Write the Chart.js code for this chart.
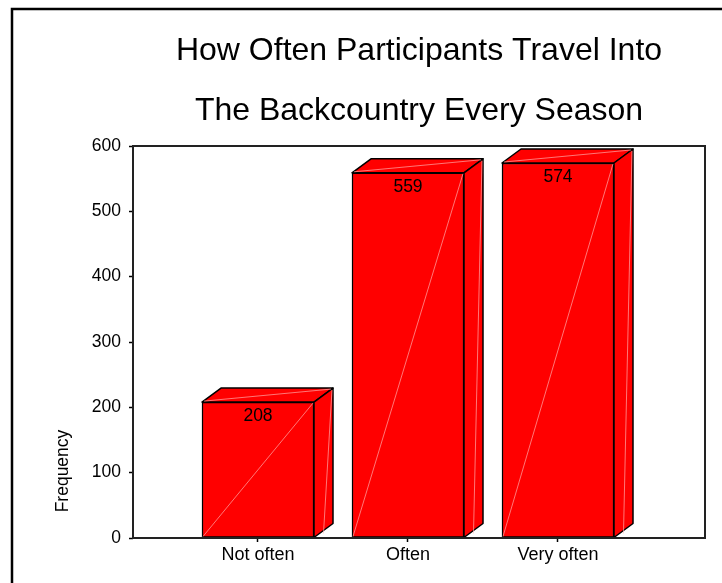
<!DOCTYPE html>
<html>
<head>
<meta charset="utf-8">
<script src="https://cdn.jsdelivr.net/npm/chart.js@4.4.1/dist/chart.umd.min.js"></script>
<style>
  html, body { margin: 0; padding: 0; background: #fff; }
  #wrap { width: 722px; height: 583px; }
</style>
</head>
<body>
<div id="wrap"><canvas id="graficoFreq" width="722" height="583"></canvas></div>
<script>
const categorias = ['Not often', 'Often', 'Very often'];
const frequencias = [208, 559, 574];
const ticksY = [0, 100, 200, 300, 400, 500, 600];
const tituloLinhas = ['How Often Participants Travel Into', 'The Backcountry Every Season'];
const tituloEixoY = 'Frequency';

const FONTE = '"Liberation Sans", Arial, sans-serif';

// caixas 3D: topo, lateral, reflexos e rótulo de valor
const caixa3d = {
  id: 'caixa3d',
  afterDatasetsDraw(chart) {
    const ctx = chart.ctx;
    const meta = chart.getDatasetMeta(0);
    const dx = 19, dy = -14;
    ctx.save();
    ctx.lineJoin = 'round';
    meta.data.forEach((bar, i) => {
      const p = bar.getProps(['x', 'y', 'base', 'width'], true);
      const l = p.x - p.width / 2, r = p.x + p.width / 2, t = p.y, b = p.base;

      ctx.fillStyle = '#ff0000';
      ctx.strokeStyle = '#000';
      ctx.lineWidth = 1.5;

      ctx.beginPath();
      ctx.moveTo(l, t); ctx.lineTo(l + dx, t + dy); ctx.lineTo(r + dx, t + dy); ctx.lineTo(r, t);
      ctx.closePath(); ctx.fill(); ctx.stroke();

      ctx.beginPath();
      ctx.moveTo(r, t); ctx.lineTo(r + dx, t + dy); ctx.lineTo(r + dx, b + dy); ctx.lineTo(r, b);
      ctx.closePath(); ctx.fill(); ctx.stroke();

      // reflexos claros
      ctx.strokeStyle = 'rgba(255,190,190,0.9)';
      ctx.lineWidth = 0.7;
      ctx.beginPath();
      ctx.moveTo(l + 1, b - 1); ctx.lineTo(r - 1, t + 1);
      ctx.moveTo(l + 2, t - 1); ctx.lineTo(r + dx - 2, t + dy + 1);
      ctx.moveTo(r + dx - 1, t + dy + 2); ctx.lineTo(r + dx / 2, b - 4);
      ctx.stroke();

      ctx.fillStyle = '#000';
      ctx.font = '17.5px ' + FONTE;
      ctx.textAlign = 'center';
      ctx.textBaseline = 'middle';
      ctx.fillText(String(frequencias[i]), p.x, t + 14);
    });
    ctx.restore();
  }
};

// moldura, título e rótulo do eixo Y
const moldura = {
  id: 'moldura',
  afterDraw(chart) {
    const ctx = chart.ctx;
    const a = chart.chartArea;
    ctx.save();
    ctx.strokeStyle = '#222';
    ctx.lineWidth = 2;
    ctx.strokeRect(a.left, a.top, a.right - a.left, a.bottom - a.top);

    ctx.strokeStyle = '#000';
    ctx.lineWidth = 2.5;
    ctx.beginPath();
    ctx.moveTo(12, chart.height); ctx.lineTo(12, 9); ctx.lineTo(chart.width, 9);
    ctx.stroke();

    ctx.fillStyle = '#000';
    ctx.textAlign = 'center';
    ctx.textBaseline = 'middle';
    ctx.font = '32px ' + FONTE;
    const cx = (a.left + a.right) / 2;
    ctx.fillText(tituloLinhas[0], cx, 51);
    ctx.fillText(tituloLinhas[1], cx, 111);

    ctx.font = '17.5px ' + FONTE;
    ctx.translate(63, 471);
    ctx.rotate(-Math.PI / 2);
    ctx.fillText(tituloEixoY, 0, 0);
    ctx.restore();
  }
};

const ctx = document.getElementById('graficoFreq').getContext('2d');

new Chart(ctx, {
  type: 'bar',
  data: {
    datasets: [{
      data: frequencias.map((v, i) => ({ x: i, y: v })),
      backgroundColor: '#ff0000',
      borderColor: '#000',
      borderWidth: 1.5,
      borderSkipped: false,
      barThickness: 112
    }]
  },
  options: {
    responsive: false,
    animation: false,
    layout: { padding: { top: 146, right: 17, bottom: 0, left: 0 } },
    scales: {
      x: {
        type: 'linear',
        offset: false,
        min: -0.8333,
        max: 2.98,
        afterBuildTicks: s => { s.ticks = categorias.map((c, i) => ({ value: i })); },
        afterFit: s => { s.height = 45; },
        ticks: {
          color: '#000',
          font: { family: FONTE, size: 18 },
          padding: 2,
          maxRotation: 0,
          autoSkip: false,
          callback: function(value) { return categorias[value]; }
        },
        grid: { offset: false, drawOnChartArea: false, tickLength: 4, color: '#000', tickWidth: 1.5 },
        border: { display: false }
      },
      y: {
        min: 0,
        max: 600,
        afterBuildTicks: s => { s.ticks = ticksY.map(v => ({ value: v })); },
        afterFit: s => { s.width = 133; },
        ticks: {
          color: '#000',
          font: { family: FONTE, size: 17.5 },
          padding: 8
        },
        grid: { drawOnChartArea: false, tickLength: 4, color: '#000', tickWidth: 1.5 },
        border: { display: false }
      }
    },
    plugins: {
      legend: { display: false },
      tooltip: { enabled: false },
      title: { display: false }
    }
  },
  plugins: [caixa3d, moldura]
});
</script>
</body>
</html>
